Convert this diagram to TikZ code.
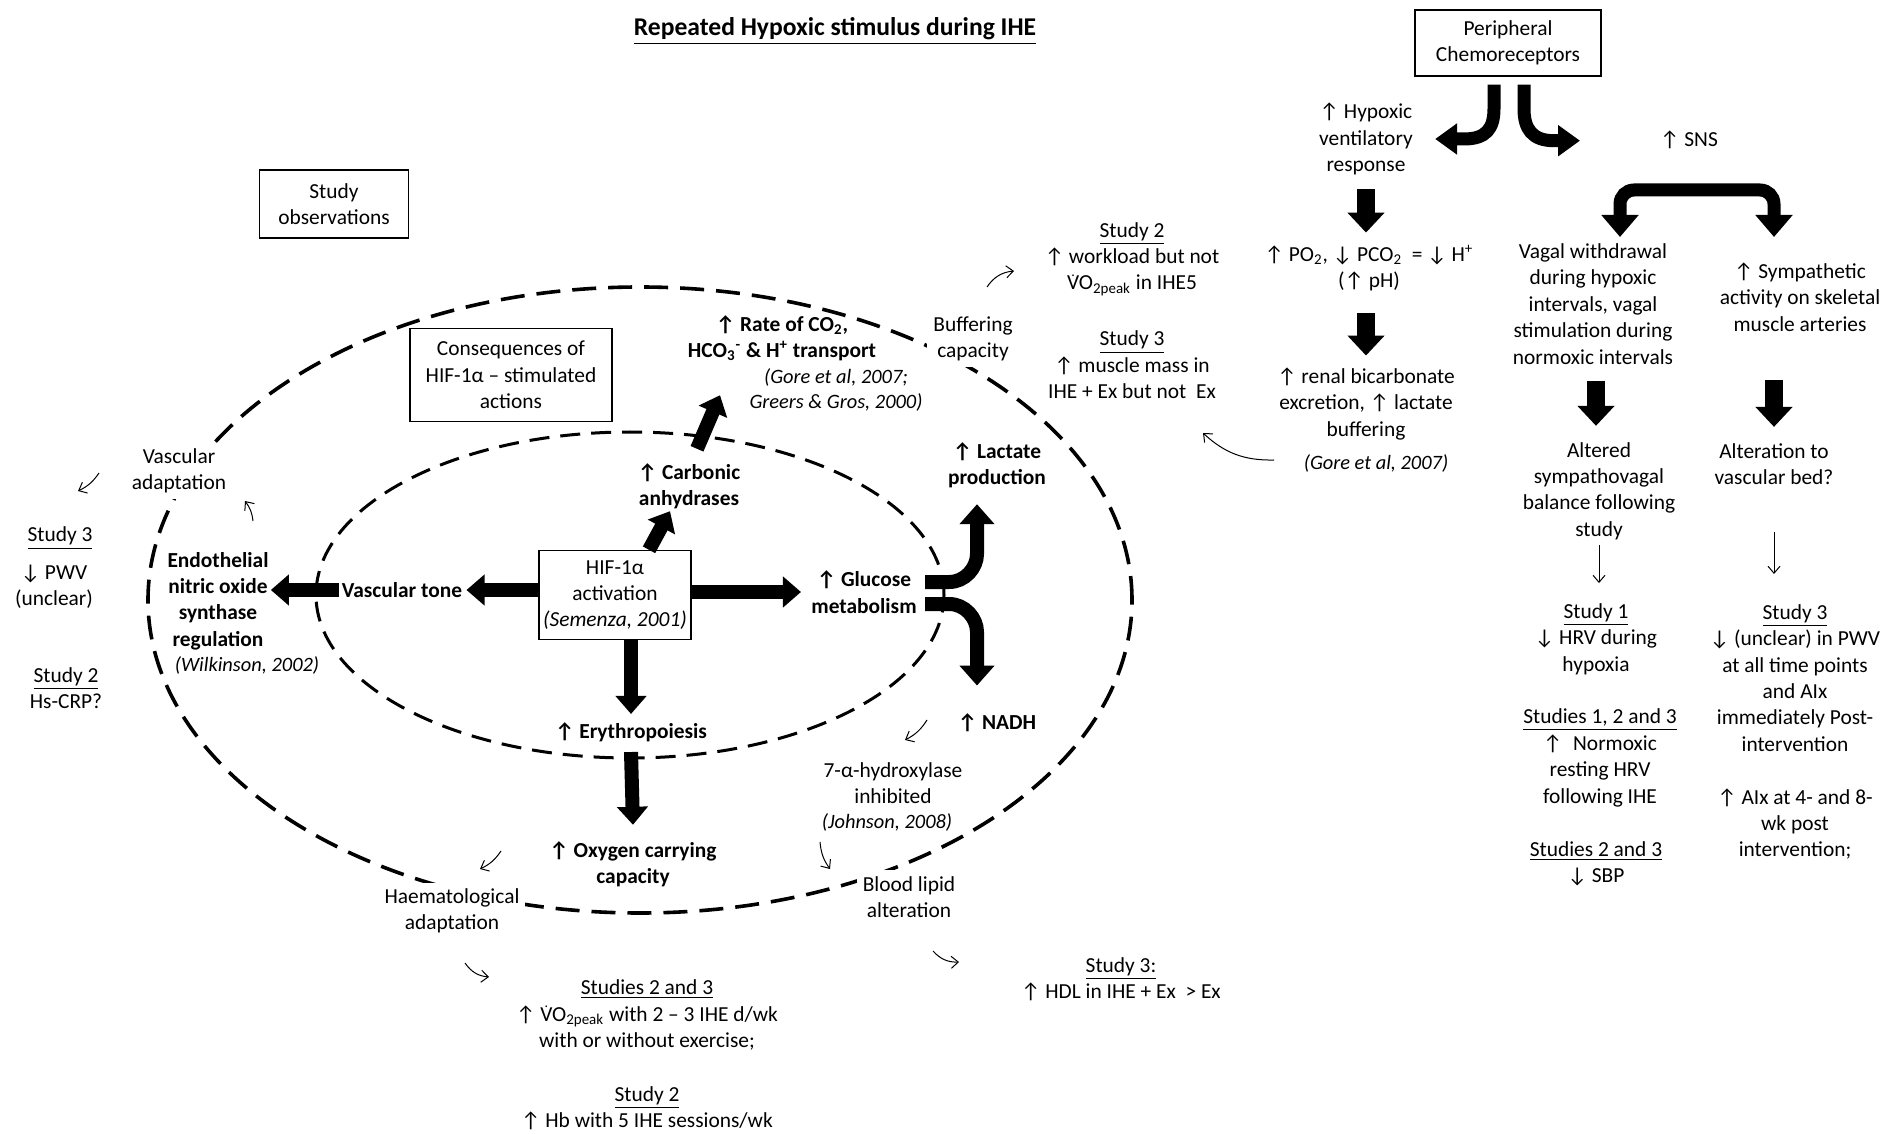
\documentclass[tikz,border=0pt]{standalone}
\usepackage{fontspec}
\setmainfont{Carlito}
\usetikzlibrary{arrows.meta,calc}
\newcommand\upa{↑}
\newcommand\dna{↓}
\newcommand\Vd{\leavevmode\rlap{\kern0.2em\raisebox{0.62em}{\scriptsize.}}V}
\begin{document}
\begin{tikzpicture}[x=0.5pt,y=-0.5pt,
  every node/.style={font=\fontsize{10.7pt}{13.2pt}\selectfont, align=center, inner sep=1pt},
  bf/.style={font=\fontsize{10.7pt}{13.2pt}\selectfont\bfseries},
  rf/.style={font=\fontsize{10.2pt}{12.6pt}\selectfont\itshape},
  onell/.style={fill=white, inner sep=3pt},
  bx/.style={draw, line width=0.7pt, fill=white},
  outerell/.style={line width=1.8pt, dash pattern=on 12pt off 6pt},
  innerell/.style={line width=1.5pt, dash pattern=on 10pt off 5.5pt},
  fat/.style={line width=7pt, -{Triangle[width=15pt,length=9pt]}},
  fatter/.style={line width=9pt, -{Triangle[width=18pt,length=10pt]}},
  curvy/.style={line width=7pt, -{Triangle[width=17pt,length=10pt]}},
  curvytwo/.style={line width=6.5pt, -{Triangle[width=15pt,length=11pt]}},
  thinarr/.style={line width=0.5pt, -{Straight Barb[length=3.5pt,width=6pt]}},
]
\useasboundingbox (0,0) rectangle (1892,1134);
\fill[white] (0,0) rectangle (1892,1134);

% ellipses
\draw[outerell] (640,600) ellipse [x radius=246pt, y radius=156.5pt];
\draw[innerell] (630,595) ellipse [x radius=157pt, y radius=81.5pt];

% title
\node[font=\fontsize{12.8pt}{15pt}\selectfont\bfseries] (title) at (835,31) {\underline{Repeated Hypoxic stimulus during IHE}};

% right part
\node[bx, minimum width=93pt, minimum height=33pt] (pc) at (1508,43) {Peripheral\\Chemoreceptors};
\node (hvr) at (1366,139) {\upa\ Hypoxic\\ventilatory\\response};
\node (sns) at (1689,140) {\upa\ SNS};
\node (po2) at (1369,268) {\upa\ PO\textsubscript{2}, \dna\ PCO\textsubscript{2} \ = \dna\ H\textsuperscript{+}\\(\upa\ pH)};
\node (renal) at (1366,404) {\upa\ renal bicarbonate\\excretion, \upa\ lactate\\buffering};
\node[rf] (gore1) at (1376,463) {(Gore et al, 2007)};
\node (vagal) at (1593,304) {Vagal withdrawal\\during hypoxic\\intervals, vagal\\stimulation during\\normoxic intervals};
\node (symp) at (1800,297) {\upa\ Sympathetic\\activity on skeletal\\muscle arteries};
\node (altered) at (1599,491) {Altered\\sympathovagal\\balance following\\study};
\node (altvb) at (1774,464) {Alteration to\\vascular bed?};
\node (s1) at (1596,639) {\underline{Study 1}\\\dna\ HRV during\\hypoxia};
\node (s123) at (1600,758) {\underline{Studies 1, 2 and 3}\\\upa\enspace Normoxic\\resting HRV\\following IHE};
\node (s23r) at (1596,864) {\underline{Studies 2 and 3}\\\dna\ SBP};
\node (s3r) at (1795,732) {\underline{Study 3}\\\dna\ (unclear) in PWV\\at all time points\\and AIx\\immediately Post-\\intervention\\[13.2pt]\upa\ AIx at 4- and 8-\\wk post\\intervention;};

% middle top
\node (s2top) at (1132,259) {\underline{Study 2}\\\upa\ workload but not\\\Vd O\textsubscript{2peak} in IHE5};
\node (s3top) at (1132,365) {\underline{Study 3}\\\upa\ muscle mass in\\IHE + Ex but not \ Ex};
\node[onell] (buff) at (973,339) {Buffering\\capacity};
\node[bf] (rate) at (782,338) {\upa\ Rate of CO\textsubscript{2},\\HCO\textsubscript{3}\textsuperscript{-} \& H\textsuperscript{+} transport};
\node[rf] (gore2) at (836,390) {(Gore et al, 2007;\\Greers \& Gros, 2000)};

% left
\node[bx, minimum width=74.5pt, minimum height=34pt] (obs) at (334,204) {Study\\observations};
\node[bx, minimum width=101pt, minimum height=46.5pt] (cons) at (511,375) {Consequences of\\HIF-1α – stimulated\\actions};
\node[onell] (vascad) at (179,471) {Vascular\\adaptation};
\node (s3l) at (60,538) {\underline{Study 3}};
\node (pwv) at (54,587) {\dna\ PWV\\(unclear)};
\node (s2l) at (66,688) {\underline{Study 2}\\Hs-CRP?};
\node[bf] (endo) at (218,601) {Endothelial\\nitric oxide\\synthase\\regulation};
\node[rf] (wilk) at (247,665) {(Wilkinson, 2002)};
\node[bf] (vt) at (402,590) {Vascular tone};
\node[bx, minimum width=76pt, minimum height=44.5pt] (hif) at (615,595) {HIF-1α\\activation\\\textit{(Semenza, 2001)}};
\node[bf] (carb) at (689,486) {\upa\ Carbonic\\anhydrases};
\node[bf] (glu) at (864,592) {\upa\ Glucose\\metabolism};
\node[bf] (lact) at (997,465) {\upa\ Lactate\\production};
\node[bf] (nadh) at (997,723) {\upa\ NADH};
\node (hydrox) at (893,783) {7-α-hydroxylase\\inhibited};
\node[rf] (john) at (887,822) {(Johnson, 2008)};
\node[onell] (blood) at (909,897) {Blood lipid\\alteration};
\node (hdl) at (1121,979) {\underline{Study 3:}\\\upa\ HDL in IHE + Ex \ > Ex};
\node[bf] (eryth) at (631,732) {\upa\ Erythropoiesis};
\node[bf] (oxy) at (633,864) {\upa\ Oxygen carrying\\capacity};
\node[onell] (haem) at (452,911) {Haematological\\adaptation};
\node (s23b) at (647,1015) {\underline{Studies 2 and 3}\\\upa\ \Vd O\textsubscript{2peak} with 2 – 3 IHE d/wk\\with or without exercise;};
\node (s2b) at (647,1108) {\underline{Study 2}\\\upa\ Hb with 5 IHE sessions/wk};

% thick arrows around HIF
\draw[fat, shorten >=1pt] (hif.west |- vt) -- (vt.east);
\draw[fat] (vt.west) -- (endo.east |- vt);
\draw[fat, shorten >=4pt] (hif.east |- glu) -- (glu.west);
\draw[fat] ($(hif.north)+(34,0)$) -- ($(carb.south)+(-19,0)$);
\draw[fat] ($(carb.north)+(8,-12)$) -- ($(rate.south)+(-62,32)$);
\draw[fat, shorten >=3pt] (eryth.north |- hif.south) -- (eryth.north);
\draw[fat] ($(eryth.south)+(0,8)$) -- ($(oxy.north)+(0,-14)$);

% lactate / NADH curved arrows
\coordinate (lx) at ($(lact.south)+(-20,14)$);
\coordinate (nx) at ($(nadh.north)+(-20,-26)$);
\draw[curvy] ($(glu.east)+(6,-10)$) -- ($(lx |- glu.east)+(-28,-10)$)
  .. controls ($(lx |- glu.east)+(-12,-10)$) and ($(lx |- glu.east)+(0,-24)$) .. ($(lx |- glu.east)+(0,-38)$) -- (lx);
\draw[curvy] ($(glu.east)+(6,12)$) -- ($(nx |- glu.east)+(-28,12)$)
  .. controls ($(nx |- glu.east)+(-12,12)$) and ($(nx |- glu.east)+(0,26)$) .. ($(nx |- glu.east)+(0,40)$) -- (nx);

% chemoreceptor arrows
\coordinate (pl) at ($(hvr.east)+(20,0)$);
\coordinate (pr) at ($(pc.south)+(72,64)$);
\draw[curvytwo] ($(pc.south)+(-14,8)$) -- ($(pc.south)+(-14,32)$)
  .. controls ($(pc.south)+(-14,52)$) and ($(pl -| pc.south)+(-22,0)$) .. ($(pl -| pc.south)+(-44,0)$) -- (pl);
\draw[curvytwo] ($(pc.south)+(16,8)$) -- ($(pc.south)+(16,32)$)
  .. controls ($(pc.south)+(16,52)$) and ($(pc.south)+(24,64)$) .. ($(pc.south)+(46,64)$) -- (pr);

% right column thick arrows
\draw[fatter] ($(hvr.south)+(0,12)$) -- ($(hvr.south |- po2.north)+(0,-10)$);
\draw[fatter] ($(po2.south -| hvr.south)+(0,20)$) -- ($(renal.north)+(0,-10)$);
\draw[fatter] ($(vagal.south)+(3,14)$) -- ($(vagal.south |- altered.north)+(3,-14)$);
\draw[fatter] ($(symp.south -| altvb.north)+(0,46)$) -- ($(altvb.north)+(0,-14)$);
\coordinate (brL) at (1620,237);
\coordinate (brR) at (1774,237);
\draw[line width=6.5pt, rounded corners=7pt, {Triangle[width=18pt,length=11pt]}-{Triangle[width=18pt,length=11pt]}]
  (brL) -- (1620,190) -- (1774,190) -- (brR);

% thin arrows
\draw[thinarr] ($(altered.south)+(0,3)$) -- ($(altered.south |- s1.north)+(0,-18)$);
\draw[thinarr] ($(altvb.south)+(0,45)$) -- ($(altvb.south |- s3r.north)+(0,-28)$);
\coordinate (a1s) at (99,473); \coordinate (a1e) at (78,491);
\draw[thinarr] (a1s) to[bend left=15] (a1e);
\coordinate (a2s) at (253,521); \coordinate (a2e) at (245,501);
\draw[thinarr] (a2s) to[bend right=15] (a2e);
\coordinate (a3s) at (987,287); \coordinate (a3e) at (1014,271);
\draw[thinarr] (a3s) to[bend left=25] (a3e);
\coordinate (a4s) at (1274,460); \coordinate (a4e) at (1203,433);
\draw[thinarr] (a4s) to[bend left=22] (a4e);
\coordinate (a5s) at (927,720); \coordinate (a5e) at (905,740);
\draw[thinarr] (a5s) to[bend left=15] (a5e);
\coordinate (a6s) at (820,842); \coordinate (a6e) at (830,869);
\draw[thinarr] (a6s) to[bend right=15] (a6e);
\coordinate (a7s) at (933,951); \coordinate (a7e) at (959,962);
\draw[thinarr] (a7s) to[bend right=25] (a7e);
\coordinate (a8s) at (501,851); \coordinate (a8e) at (480,869);
\draw[thinarr] (a8s) to[bend left=15] (a8e);
\coordinate (a9s) at (465,963); \coordinate (a9e) at (489,977);
\draw[thinarr] (a9s) to[bend right=25] (a9e);
\end{tikzpicture}
\end{document}
